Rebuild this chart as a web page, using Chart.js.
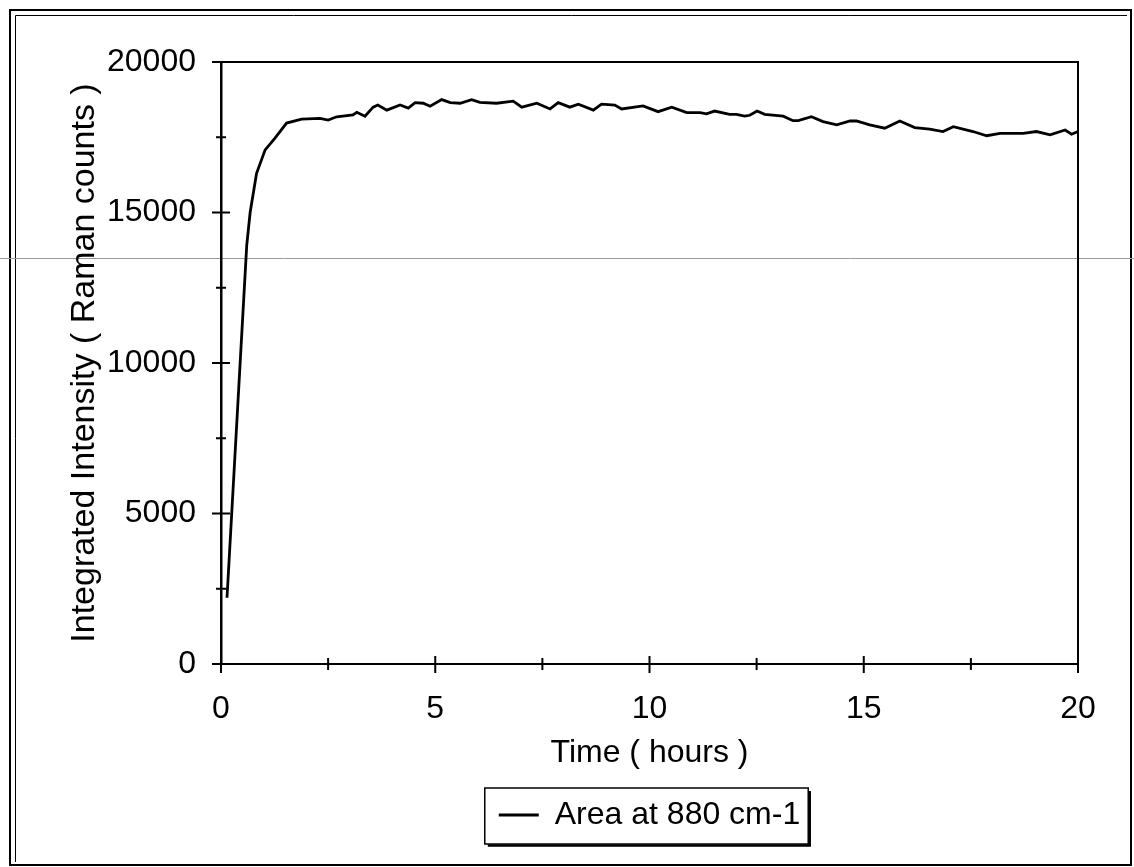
<!DOCTYPE html>
<html>
<head>
<meta charset="utf-8">
<script src="https://cdn.jsdelivr.net/npm/chart.js@4.4.0/dist/chart.umd.min.js"></script>
<style>
  html, body { margin: 0; padding: 0; background: #fff; }
  canvas { display: block; }
</style>
</head>
<body>
<canvas id="chart" width="1134" height="867"></canvas>
<script>
// values
const hours = [0.14, 0.6, 0.68, 0.83, 1.03, 1.26, 1.53, 1.88, 2.31, 2.5, 2.7, 3.08, 3.17, 3.36, 3.55, 3.66,
  3.87, 4.18, 4.37, 4.53, 4.72, 4.88, 5.15, 5.35, 5.58, 5.85, 6.04, 6.43, 6.82, 7.02, 7.37, 7.68, 7.87,
  8.14, 8.34, 8.69, 8.88, 9.19, 9.35, 9.85, 10.2, 10.52, 10.87, 11.18, 11.33, 11.52, 11.87, 12.03, 12.22,
  12.34, 12.51, 12.69, 13.12, 13.35, 13.47, 13.78, 14.05, 14.37, 14.68, 14.83, 15.14, 15.49, 15.84, 16.19,
  16.54, 16.85, 17.09, 17.55, 17.87, 18.18, 18.72, 19.03, 19.35, 19.7, 19.85, 20];
const counts = [2200, 13900, 15000, 16300, 17080, 17470, 17970, 18100, 18130, 18070, 18180, 18240, 18330, 18200, 18500, 18570,
  18400, 18570, 18470, 18650, 18630, 18530, 18750, 18650, 18630, 18750, 18660, 18630, 18700, 18500, 18630, 18440, 18650,
  18500, 18600, 18400, 18600, 18570, 18440, 18540, 18350, 18500, 18320, 18320, 18280, 18370, 18260, 18260, 18200,
  18230, 18370, 18260, 18200, 18050, 18050, 18180, 18020, 17910, 18040, 18040, 17910, 17800, 18040, 17820,
  17770, 17690, 17850, 17690, 17550, 17630, 17630, 17690, 17580, 17740, 17600, 17690];

const xMajor = [0, 5, 10, 15, 20];
const xMinor = [2.5, 7.5, 12.5, 17.5];
const yMajor = [0, 5000, 10000, 15000, 20000];
const yMinor = [2500, 7500, 12500, 17500];

const seriesLabel = 'Area at 880 cm-1';
const fontFamily = '"Liberation Sans", Arial, sans-serif';

// page frame, plot box, crossing tick marks and the boxed legend
const decorations = {
  id: 'decorations',
  beforeDraw(chart) {
    const c = chart.ctx;
    c.save();
    c.fillStyle = '#fff';
    c.fillRect(0, 0, chart.width, chart.height);
    c.strokeStyle = '#000';
    c.lineWidth = 2;
    c.strokeRect(10, 10, 1121, 855);
    c.lineWidth = 1;
    c.beginPath();
    c.moveTo(15.5, 862);
    c.lineTo(15.5, 15.5);
    c.lineTo(1127, 15.5);
    c.stroke();
    // faint scan line across the page
    c.strokeStyle = '#9a9a9a';
    c.beginPath();
    c.moveTo(0, 258.5);
    c.lineTo(chart.width, 258.5);
    c.stroke();
    c.restore();
  },
  afterDraw(chart) {
    const c = chart.ctx;
    const a = chart.chartArea;
    const x = chart.scales.x;
    const y = chart.scales.y;
    c.save();
    c.strokeStyle = '#000';
    c.lineWidth = 2;
    c.beginPath();
    c.moveTo(a.left, a.top);
    c.lineTo(a.right, a.top);
    c.lineTo(a.right, a.bottom);
    c.stroke();

    c.beginPath();
    yMajor.forEach(v => { const p = y.getPixelForValue(v); c.moveTo(a.left - 9, p); c.lineTo(a.left + 9, p); });
    yMinor.forEach(v => { const p = y.getPixelForValue(v); c.moveTo(a.left - 5, p); c.lineTo(a.left + 5, p); });
    xMajor.forEach(v => { const p = x.getPixelForValue(v); c.moveTo(p, a.bottom - 8); c.lineTo(p, a.bottom + 9); });
    xMinor.forEach(v => { const p = x.getPixelForValue(v); c.moveTo(p, a.bottom - 6); c.lineTo(p, a.bottom + 6); });
    c.stroke();

    const hb = chart.legend.legendHitBoxes[0];
    if (hb) {
      const l = hb.left - 14, t = hb.top - 11, w = hb.width + 22, h = hb.height + 24;
      c.lineWidth = 1.5;
      c.strokeRect(l, t, w, h);
      c.lineWidth = 2.5;
      c.beginPath();
      c.moveTo(l + 3, t + h + 1.5);
      c.lineTo(l + w + 1.5, t + h + 1.5);
      c.lineTo(l + w + 1.5, t + 3);
      c.stroke();
    }
    c.restore();
  }
};

const ctx = document.getElementById('chart').getContext('2d');

new Chart(ctx, {
  type: 'line',
  data: {
    datasets: [
      {
        label: seriesLabel,
        data: hours.map((h, i) => ({ x: h, y: counts[i] })),
        borderColor: '#000',
        backgroundColor: '#000',
        borderWidth: 2.8,
        pointRadius: 0,
        tension: 0,
        fill: false,
      },
    ],
  },
  options: {
    responsive: false,
    animation: false,
    layout: {
      padding: { left: 64, top: 62, right: 56, bottom: 26 },
    },
    plugins: {
      tooltip: { enabled: false },
      legend: {
        position: 'bottom',
        fullSize: false,
        labels: {
          usePointStyle: true,
          pointStyle: 'line',
          pointStyleWidth: 40,
          padding: 10,
          color: '#000',
          font: { family: fontFamily, size: 32 },
        },
      },
    },
    scales: {
      x: {
        type: 'linear',
        min: 0,
        max: 20,
        afterBuildTicks: s => { s.ticks = xMajor.map(v => ({ value: v })); },
        afterFit: s => { s.height = 125; },
        grid: { display: true, drawOnChartArea: false, drawTicks: false },
        border: { display: true, color: '#000', width: 2 },
        ticks: {
          padding: 26,
          color: '#000',
          maxRotation: 0,
          font: { family: fontFamily, size: 32 },
        },
        title: {
          display: true,
          text: 'Time ( hours )',
          color: '#000',
          padding: { top: 0, bottom: 17 },
          font: { family: fontFamily, size: 32 },
        },
      },
      y: {
        min: 0,
        max: 20000,
        afterBuildTicks: s => { s.ticks = yMajor.map(v => ({ value: v })); },
        afterFit: s => { s.width = 157; },
        grid: { display: true, drawOnChartArea: false, drawTicks: false },
        border: { display: true, color: '#000', width: 2.5 },
        ticks: {
          padding: 25,
          color: '#000',
          font: { family: fontFamily, size: 32 },
          callback: v => String(v),
        },
        title: {
          display: true,
          text: 'Integrated Intensity ( Raman counts )',
          color: '#000',
          padding: { top: 0, bottom: 0 },
          font: { family: fontFamily, size: 34 },
        },
      },
    },
  },
  plugins: [decorations],
});
</script>
</body>
</html>
